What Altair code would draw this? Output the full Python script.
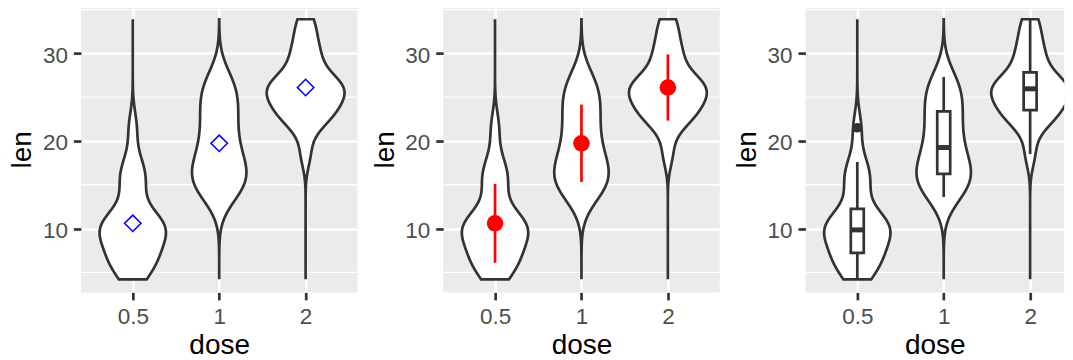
import altair as alt
import pandas as pd

# ToothGrowth: tooth length by vitamin C dose
dose_levels = ["0.5", "1", "2"]
len_d05 = [4.2, 11.5, 7.3, 5.8, 6.4, 10.0, 11.2, 11.2, 5.2, 7.0,
           15.2, 21.5, 17.6, 9.7, 14.5, 10.0, 8.2, 9.4, 16.5, 9.7]
len_d1 = [16.5, 16.5, 15.2, 17.3, 22.5, 17.3, 13.6, 14.5, 18.8, 15.5,
          19.7, 23.3, 23.6, 26.4, 20.0, 25.2, 25.8, 21.2, 14.5, 27.3]
len_d2 = [23.6, 18.5, 33.9, 25.5, 26.4, 32.5, 26.7, 21.5, 23.3, 29.5,
          25.5, 26.4, 22.4, 24.5, 24.8, 30.9, 26.4, 27.3, 29.4, 23.0]
y_ticks = [10, 20, 30]
y_minor = [5, 15, 25, 35]

rows = []
for lev, vals in zip(dose_levels, [len_d05, len_d1, len_d2]):
    for v in vals:
        rows.append({"dose": lev, "len": v})
df = pd.DataFrame(rows)
minor_df = pd.DataFrame({"m": y_minor})

levels_js = "[" + ",".join("'%s'" % d for d in dose_levels) + "]"
POS = "indexof(%s, datum.dose) + 1" % levels_js

W, H = 276.8, 286.5
W3 = 259.0                      # last panel is cut at the right edge, as in the reference
FONT = "Liberation Sans"
xs = alt.Scale(domain=[0.4, 3.6], nice=False, zero=False)
xs3 = alt.Scale(domain=[0.4, 0.4 + 3.2 * W3 / W], nice=False, zero=False)
ys = alt.Scale(domain=[2.715, 35.385], nice=False, zero=False)

x_axis = alt.Axis(values=[1, 2, 3], labelExpr="%s[datum.value - 1]" % levels_js,
                  title="dose", grid=True, minExtent=36, maxExtent=36,
                  titlePadding=3.5, labelPadding=6)
y_axis = alt.Axis(values=y_ticks, title="len", grid=True, minExtent=38.5, maxExtent=38.5,
                  titlePadding=11.6, titleBaseline="alphabetic", titleAngle=270,
                  labelPadding=6, labelOffset=2)


def make_X(scale):
    def X(f):
        return alt.X(f + ":Q", scale=scale, axis=x_axis)
    return X


def Y(f):
    return alt.Y(f + ":Q", scale=ys, axis=y_axis)


def minor_grid():
    return alt.Chart(minor_df).mark_rule(color="white", strokeWidth=1.3).encode(y=Y("m"))


def violin(X, clip=False):
    # per-group nrd0 bandwidth, density evaluated over the full range of len
    return alt.Chart(df).transform_joinaggregate(
        sd="stdev(len)", q1="q1(len)", q3="q3(len)", n="count()", groupby=["dose"]
    ).transform_joinaggregate(
        gmn="min(len)", gmx="max(len)"
    ).transform_calculate(
        bw="0.9 * min(datum.sd, (datum.q3 - datum.q1) / 1.34) * pow(datum.n, -0.2)"
    ).transform_calculate(
        z="datum.len / datum.bw"
    ).transform_density(
        "z", groupby=["dose", "bw", "gmn", "gmx"], bandwidth=1, extent=[1.5, 22.5],
        steps=4000, as_=["zv", "zd"]
    ).transform_calculate(
        y="datum.zv * datum.bw", d="datum.zd / datum.bw"
    ).transform_filter(
        "datum.y >= datum.gmn && datum.y <= datum.gmx"
    ).transform_joinaggregate(
        dmax="max(d)"
    ).transform_calculate(
        pos=POS
    ).transform_calculate(
        xr="datum.pos + 0.45 * datum.d / datum.dmax",
        xl="datum.pos - 0.45 * datum.d / datum.dmax"
    ).mark_area(
        orient="horizontal", fill="white", stroke="#333333", strokeWidth=2.7, clip=clip
    ).encode(
        y=Y("y"), x=X("xr"), x2=alt.X2("xl:Q"), detail="dose:N"
    )


def means():
    return alt.Chart(df).transform_aggregate(
        m="mean(len)", s="stdev(len)", groupby=["dose"]
    ).transform_calculate(
        pos=POS, lo="datum.m - datum.s", hi="datum.m + datum.s"
    )


X = make_X(xs)
X3 = make_X(xs3)

# Panel 1: violin + mean (open blue diamond)
diamond = means().mark_point(shape="diamond", filled=False, color="blue", size=270,
                             strokeWidth=1.6, opacity=1).encode(x=X("pos"), y=Y("m"))
p1 = alt.layer(minor_grid(), violin(X), diamond).properties(width=W, height=H)

# Panel 2: violin + mean +/- sd
err = means().mark_rule(color="red", strokeWidth=2.7).encode(
    x=X("pos"), y=Y("lo"), y2=alt.Y2("hi:Q"))
dot = means().mark_circle(color="red", size=275, opacity=1).encode(x=X("pos"), y=Y("m"))
p2 = alt.layer(minor_grid(), violin(X), err, dot).properties(width=W, height=H)


# Panel 3: violin + narrow boxplot
def box_base():
    return alt.Chart(df).transform_joinaggregate(
        q1="q1(len)", q3="q3(len)", med="median(len)", groupby=["dose"]
    ).transform_calculate(
        lo="datum.q1 - 1.5 * (datum.q3 - datum.q1)",
        hi="datum.q3 + 1.5 * (datum.q3 - datum.q1)",
        pos=POS
    )


whisk_data = box_base().transform_filter(
    "datum.len >= datum.lo && datum.len <= datum.hi"
).transform_aggregate(
    wlo="min(len)", whi="max(len)", groupby=["dose", "pos", "q1", "q3", "med"]
).transform_calculate(
    bl="datum.pos - 0.075", br="datum.pos + 0.075"
)
whisk = whisk_data.mark_rule(color="#333333", strokeWidth=2.7).encode(
    x=X3("pos"), y=Y("wlo"), y2=alt.Y2("whi:Q"))
box = whisk_data.mark_rect(fill="white", stroke="#333333", strokeWidth=2.7).encode(
    x=X3("bl"), x2=alt.X2("br:Q"), y=Y("q1"), y2=alt.Y2("q3:Q"))
med = whisk_data.mark_rule(color="#333333", strokeWidth=5).encode(
    x=X3("bl"), x2=alt.X2("br:Q"), y=Y("med"))
outl = box_base().transform_filter(
    "datum.len < datum.lo || datum.len > datum.hi"
).mark_circle(color="#333333", size=90, opacity=1).encode(x=X3("pos"), y=Y("len"))
p3 = alt.layer(minor_grid(), violin(X3, clip=True), whisk, box, med, outl).properties(
    width=W3, height=H)

chart = alt.hconcat(p1, p2, p3, spacing=85.6, bounds="flush").properties(
    padding={"left": 0, "top": -2, "right": 0, "bottom": 0}, background="white"
).configure_view(
    fill="#EBEBEB", strokeWidth=0
).configure_axis(
    domain=False, gridColor="white", gridWidth=2.5, tickColor="#333333", tickWidth=2.7,
    tickSize=7.5, labelFont=FONT, labelFontSize=22.5, labelColor="#4D4D4D",
    titleFont=FONT, titleFontSize=28, titleFontWeight="normal", titleColor="black"
)

chart.save("out.html", embed_options={"renderer": "svg", "actions": False})
